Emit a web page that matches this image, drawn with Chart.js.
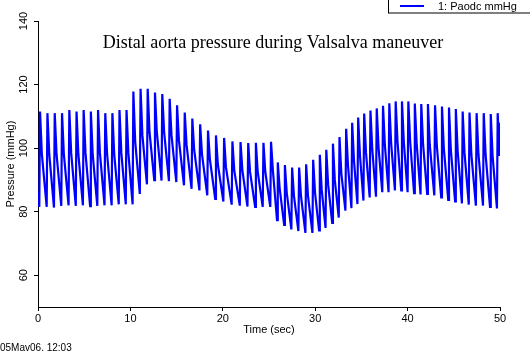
<!DOCTYPE html>
<html>
<head>
<meta charset="utf-8">
<script src="https://cdn.jsdelivr.net/npm/chart.js@4.4.0/dist/chart.umd.min.js"></script>
<style>
  html, body { margin: 0; padding: 0; background: #fff; }
  #wrap { position: relative; width: 530px; height: 353px; }
</style>
</head>
<body>
<div id="wrap"><canvas id="aortaChart" width="530" height="353"></canvas></div>

<script>
  // one entry per heart beat
  const peakTimes = [
    0.22, 1.02, 1.81, 2.60, 3.39, 4.17, 4.94, 5.72, 6.50, 7.28, 8.05,
    8.82, 9.58, 10.32, 11.10, 11.87, 12.66, 13.45, 14.25, 15.05, 15.88, 16.70,
    17.55, 18.40, 19.26, 20.14, 21.04, 21.92, 22.75, 23.58, 24.40, 25.22,
    25.95, 26.72, 27.50, 28.26, 29.02, 29.78, 30.50, 31.20, 31.92, 32.63, 33.35,
    34.00, 34.65, 35.30, 35.98, 36.66, 37.34, 38.02, 38.71, 39.39, 40.08, 40.78, 41.48,
    42.20, 42.97, 43.72, 44.48, 45.22, 45.96, 46.70, 47.47, 48.24, 49.00, 49.75
  ];
  // systolic peak (mmHg)
  const peaks = [
    111.5, 111, 111, 111, 112, 111.5, 112, 111.5, 112, 111, 111,
    112, 112, 117.8, 118.7, 118.7, 117.5, 117, 115.5, 113.5, 111.2, 109.3,
    107.5, 105.5, 104, 103.2, 102.1, 101.9, 101.6, 101.7, 101.7, 102,
    95.5, 94.7, 93.9, 93.9, 94.9, 96.3, 97.9, 99.5, 101.4, 103.5, 106.1,
    108, 109.6, 110.9, 111.8, 112.5, 113.3, 114.1, 114.7, 114.7, 114.7, 114, 113.9,
    113.9, 113.5, 113.1, 112.8, 112.3, 111.5, 111.2, 111, 111, 110.7, 111
  ];
  // diastolic trough just before each upstroke (mmHg)
  const troughs = [
    81.5, 81.5, 81.3, 81.8, 82, 81.8, 82, 81.7, 81.8, 82, 82,
    82.3, 82.3, 82.3, 85.6, 88.6, 89.9, 89.8, 89.6, 89.3, 88.3, 87.2,
    86.7, 85.1, 84, 83.2, 82.2, 81.9, 81.6, 81.5, 81.5, 81.5,
    77.3, 75.8, 74.4, 73.9, 73.3, 73.3, 74.1, 74.9, 76.5, 78.1, 80.3,
    81.1, 82.4, 83.5, 84.5, 84.7, 86.1, 86.1, 86.7, 86.7, 86.1, 85.8, 85.4,
    85.6, 85.1, 84.5, 83.7, 83.2, 82.6, 82.2, 81.9, 81.9, 81.5, 81
  ];
  // shoulder on the falling limb (mmHg)
  const notches = [
    98, 98, 98, 98, 98.5, 98, 98.5, 98, 98.5, 98, 98,
    98.5, 98.5, 102, 104, 105, 105, 105, 104, 102.5, 101, 99.5,
    98, 96.5, 95, 94, 93, 93, 92.5, 92.5, 92.5, 93,
    87.5, 86, 85, 85, 85, 86, 87, 88.5, 90, 92, 94.5,
    96, 97.5, 98.5, 99.5, 100, 101, 101.5, 102, 102, 102, 101.5, 101,
    101, 100.5, 100, 99.5, 99, 98.5, 98, 98, 98, 97.5, 97.5
  ];
  const startValue = 86.5;
  const endValue = 108;
  const xTicks = [0, 10, 20, 30, 40, 50];
  const yTicks = [60, 80, 100, 120, 140];

  const points = [{ x: 0, y: startValue }];
  peakTimes.forEach((t, i) => {
    points.push({ x: t - 0.08, y: troughs[i] });
    points.push({ x: t, y: peaks[i] });
    points.push({ x: t + 0.2, y: notches[i] });
  });
  points.push({ x: 50, y: endValue });

  const labelFont = { family: 'Liberation Sans', size: 11 };

  // title, legend box and date stamp
  const overlay = {
    id: 'overlay',
    afterDraw(chart) {
      const ctx = chart.ctx;
      ctx.save();
      ctx.fillStyle = '#000';
      ctx.font = "18px 'Liberation Serif'";
      ctx.textAlign = 'center';
      ctx.textBaseline = 'alphabetic';
      ctx.fillText('Distal aorta pressure during Valsalva maneuver', 273, 48);

      ctx.strokeStyle = '#000';
      ctx.lineWidth = 1;
      ctx.strokeRect(388.5, -0.5, 143, 13.5);
      ctx.strokeStyle = '#0000ff';
      ctx.lineWidth = 2;
      ctx.beginPath();
      ctx.moveTo(400, 6);
      ctx.lineTo(424, 6);
      ctx.stroke();
      ctx.font = "11px 'Liberation Sans'";
      ctx.textAlign = 'left';
      ctx.fillText('1: Paodc mmHg', 438, 10);

      ctx.font = "10px 'Liberation Sans'";
      ctx.fillText('05Mav06. 12:03', 0, 351);
      ctx.restore();
    }
  };

  const ctx = document.getElementById('aortaChart').getContext('2d');
  new Chart(ctx, {
    type: 'line',
    data: {
      datasets: [{
        label: '1: Paodc mmHg',
        data: points,
        borderColor: '#0000ff',
        borderWidth: 2.2,
        pointRadius: 0,
        tension: 0,
        fill: false
      }]
    },
    options: {
      responsive: false,
      maintainAspectRatio: false,
      animation: false,
      layout: { padding: { left: 0, right: 30, top: 21, bottom: 0 } },
      plugins: {
        legend: { display: false },
        title: { display: false },
        tooltip: { enabled: false }
      },
      scales: {
        x: {
          type: 'linear',
          min: 0,
          max: 50,
          afterBuildTicks: s => { s.ticks = xTicks.map(v => ({ value: v })); },
          afterFit: s => { s.height = 46; },
          grid: { drawOnChartArea: false, tickLength: 4, color: '#000' },
          border: { color: '#000', width: 1 },
          ticks: { color: '#000', font: labelFont, padding: 1, maxRotation: 0, minRotation: 0 },
          title: { display: true, text: 'Time (sec)', color: '#000', font: labelFont, padding: { top: 0, bottom: 16 } }
        },
        y: {
          min: 50,
          max: 140,
          afterBuildTicks: s => { s.ticks = yTicks.map(v => ({ value: v })); },
          afterFit: s => { s.width = 38; },
          grid: { drawOnChartArea: false, tickLength: 4, color: '#000' },
          border: { color: '#000', width: 1 },
          ticks: { color: '#000', font: labelFont, padding: 1, minRotation: 90, maxRotation: 90, crossAlign: 'center' },
          title: { display: true, text: 'Pressure (mmHg)', color: '#000', font: labelFont, padding: { top: 4, bottom: 0 } }
        }
      }
    },
    plugins: [overlay]
  });
</script>
</body>
</html>
